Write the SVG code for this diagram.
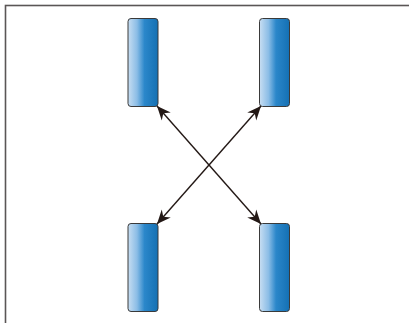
<svg xmlns="http://www.w3.org/2000/svg" width="409" height="323" viewBox="0 0 409 323">
<defs>
<linearGradient id="g" x1="0" y1="0" x2="1" y2="0">
<stop offset="0" stop-color="#c8def2"/>
<stop offset="0.3" stop-color="#8bbde6"/>
<stop offset="0.55" stop-color="#2b87ca"/>
<stop offset="1" stop-color="#1470b3"/>
</linearGradient>
<marker id="ah" viewBox="-15 -7 16 14" refX="0" refY="0" markerWidth="16" markerHeight="14" markerUnits="userSpaceOnUse" orient="auto-start-reverse">
<path d="M0,0 L-14,-6 L-9.5,0 L-14,6 Z" fill="#231815"/>
</marker>
</defs>
<style>
.box{fill:url(#g);stroke:#3a3a3a;stroke-width:1}
.c{stroke:#231815;stroke-width:1.4;fill:none;marker-start:url(#ah);marker-end:url(#ah)}
</style>
<rect x="0" y="0" width="409" height="323" fill="#fff"/>
<rect x="5.5" y="5.5" width="420" height="330" fill="none" stroke="#5a5656" stroke-width="1.6"/>
<g id="node-tl"><rect class="box" x="128" y="18.5" width="30" height="88" rx="3"/></g>
<g id="node-tr"><rect class="box" x="259.5" y="18.5" width="30" height="88" rx="3"/></g>
<g id="node-bl"><rect class="box" x="128" y="223.5" width="30" height="88" rx="3"/></g>
<g id="node-br"><rect class="box" x="259.5" y="223.5" width="30" height="88" rx="3"/></g>
<g id="connectors">
<line class="c" x1="157" y1="106" x2="261" y2="224"/>
<line class="c" x1="261" y1="106" x2="157" y2="224"/>
</g>
</svg>
